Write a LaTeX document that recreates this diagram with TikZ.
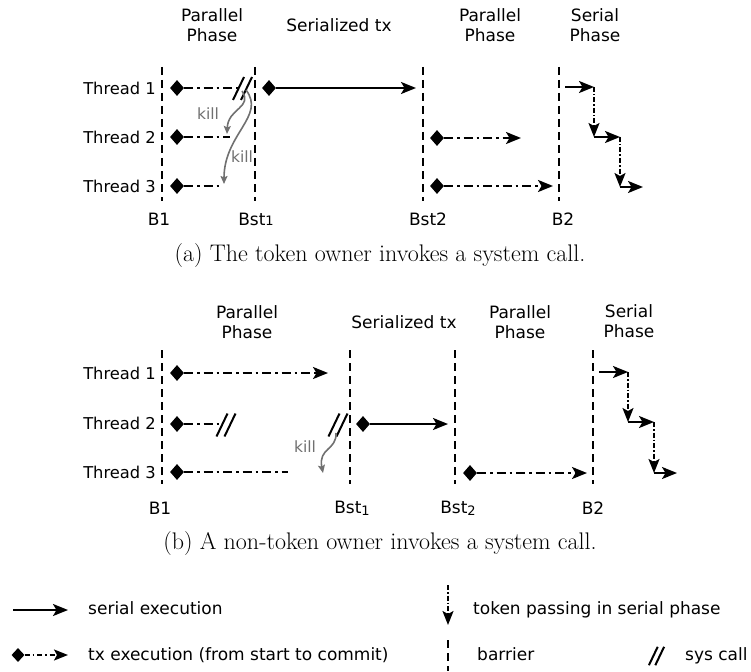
\documentclass[tikz,border=0pt]{standalone}
\usepackage{fontspec}
\newfontfamily\dv{DejaVu Sans}
\usetikzlibrary{arrows.meta,shapes.geometric}
\definecolor{killgray}{RGB}{112,112,112}
\begin{document}
\begin{tikzpicture}[x=1pt,y=-1pt,
  lbl/.style={font=\dv\fontsize{17}{20}\selectfont, inner sep=0pt},
  phase/.style={lbl, align=center},
  thr/.style={font=\dv\fontsize{16.3}{19}\selectfont, anchor=east, inner sep=0pt},
  leg/.style={font=\dv\fontsize{17}{20}\selectfont, anchor=base west, inner sep=0pt},
  barrierline/.style={line width=2pt, dash pattern=on 8pt off 5pt},
  dmd/.style={diamond, fill=black, inner sep=0pt, minimum width=14pt, minimum height=16pt},
  arrtip/.style={-{Stealth[length=15pt,width=12pt,inset=3.5pt]}},
  tx/.style={line width=2pt, dash pattern=on 9pt off 4pt on 2.5pt off 4pt},
  txa/.style={tx, arrtip},
  ser/.style={line width=2pt, arrtip},
  tok/.style={line width=1.6pt, dash pattern=on 5pt off 2pt on 1.5pt off 2pt,
              -{Stealth[length=14pt,width=11pt,inset=3pt]}},
  killarr/.style={draw=killgray, line width=1.6pt, -{Stealth[length=8pt,width=7pt,inset=1.5pt]}},
  killlbl/.style={font=\dv\fontsize{15.5}{18}\selectfont, text=killgray, inner sep=0pt},
  captxt/.style={font=\fontsize{24}{28}\selectfont, anchor=base, inner sep=0pt},
  syscall/.pic={\draw[line width=2pt] (-9.5,11.5) -- (1.5,-11.5) (-1.5,11.5) -- (9.5,-11.5);}
]
\useasboundingbox (0,0) rectangle (751,671);

% ================= (a) =================
\node[phase] (aph1) at (212,25) {Parallel\\Phase};
\node[lbl]   (aser) at (339,25) {Serialized tx};
\node[phase] (aph2) at (490,25) {Parallel\\Phase};
\node[phase] (aph3) at (595,25) {Serial\\Phase};

\foreach \n/\x in {aB1/162, aBst1/255, aBst2/423, aB2/559}{
  \coordinate (\n t) at (\x,67); \coordinate (\n b) at (\x,201);
  \draw[barrierline] (\n t) -- (\n b);
}
\node[lbl] (laB1) at (159,219) {B1};
\node[lbl] (laBst1) at (256,219) {Bst{\fontsize{13}{13}\selectfont 1}};
\node[lbl] (laBst2) at (428,219) {Bst2};
\node[lbl] (laB2) at (563,219) {B2};

\node[thr] (at1) at (156,88) {Thread 1};
\node[thr] (at2) at (156,137) {Thread 2};
\node[thr] (at3) at (156,186) {Thread 3};

% thread 1
\node[dmd] (a1s) at (177,88) {};
\coordinate (a1e) at (238,88);
\draw[tx] (a1s.east) -- (a1e);
\pic at (242.5,88.5) {syscall};
\node[dmd] (a1s2) at (269,88) {};
\coordinate (a1e2) at (416,88);
\draw[ser] (a1s2.east) -- (a1e2);
% thread 2
\node[dmd] (a2s) at (177,137) {};
\coordinate (a2e) at (230,137);
\draw[tx] (a2s.east) -- (a2e);
\node[dmd] (a2s2) at (437,138) {};
\coordinate (a2e2) at (521,138);
\draw[txa] (a2s2.east) -- (a2e2);
% thread 3
\node[dmd] (a3s) at (177,186) {};
\coordinate (a3e) at (223,186);
\draw[tx] (a3s.east) -- (a3e);
\node[dmd] (a3s2) at (437,186) {};
\coordinate (a3e2) at (553,186);
\draw[txa] (a3s2.east) -- (a3e2);

% kills
\coordinate (ak1s) at (242,91);
\coordinate (ak1e) at (227,134);
\draw[killarr] (ak1s) .. controls (253,108) and (228,108) .. (ak1e);
\coordinate (ak2s) at (246,90);
\coordinate (ak2e) at (224,184);
\draw[killarr] (ak2s) .. controls (266,116) and (224,134) .. (ak2e);
\node[killlbl] (akl1) at (208,114) {kill};
\node[killlbl] (akl2) at (242,157) {kill};

% serial phase staircase
\coordinate (as0) at (565,87);
\coordinate (as1) at (594,87);
\coordinate (as2) at (594,137);
\coordinate (as3) at (620,137);
\coordinate (as4) at (620,187);
\coordinate (as5) at (643,187);
\draw[ser] (as0) -- (as1);
\draw[tok] (as1) -- (as2);
\draw[ser] (as2) -- (as3);
\draw[tok] (as3) -- (as4);
\draw[ser] (as4) -- (as5);

\node[captxt] (capa) at (380,261) {(a) The token owner invokes a system call.};

% ================= (b) =================
\node[phase] (bph1) at (247,322) {Parallel\\Phase};
\node[lbl]   (bser) at (404,322) {Serialized tx};
\node[phase] (bph2) at (520,322) {Parallel\\Phase};
\node[phase] (bph3) at (629,321) {Serial\\Phase};

\foreach \n/\x in {bB1/162, bBst1/350, bBst2/455, bB2/593}{
  \coordinate (\n t) at (\x,350); \coordinate (\n b) at (\x,484);
  \draw[barrierline] (\n t) -- (\n b);
}
\node[lbl] (lbB1) at (160,508) {B1};
\node[lbl] (lbBst1) at (352,508) {Bst\raisebox{-2pt}{\fontsize{13}{13}\selectfont 1}};
\node[lbl] (lbBst2) at (458,508) {Bst\raisebox{-2pt}{\fontsize{13}{13}\selectfont 2}};
\node[lbl] (lbB2) at (593,508) {B2};

\node[thr] (bt1) at (156,373) {Thread 1};
\node[thr] (bt2) at (156,423) {Thread 2};
\node[thr] (bt3) at (156,472) {Thread 3};

% thread 1
\node[dmd] (b1s) at (177,373) {};
\coordinate (b1e) at (328,373);
\draw[txa] (b1s.east) -- (b1e);
% thread 2
\node[dmd] (b2s) at (177,424) {};
\coordinate (b2e) at (221,424);
\draw[tx] (b2s.east) -- (b2e);
\pic at (226,425) {syscall};
\pic at (338,425) {syscall};
\node[dmd] (b2s2) at (363,424) {};
\coordinate (b2e2) at (448,424);
\draw[ser] (b2s2.east) -- (b2e2);
% thread 3
\node[dmd] (b3s) at (177,472) {};
\coordinate (b3e) at (288,472);
\draw[tx] (b3s.east) -- (b3e);
\node[dmd] (b3s2) at (470,473) {};
\coordinate (b3e2) at (587,473);
\draw[txa] (b3s2.east) -- (b3e2);

% kill
\coordinate (bks) at (336,433);
\coordinate (bke) at (323,473);
\draw[killarr] (bks) .. controls (337,450) and (318,448) .. (bke);
\node[killlbl] (bkl) at (305,447) {kill};

% serial phase staircase
\coordinate (bs0) at (599,372);
\coordinate (bs1) at (628,372);
\coordinate (bs2) at (628,422);
\coordinate (bs3) at (654,422);
\coordinate (bs4) at (654,473);
\coordinate (bs5) at (677,473);
\draw[ser] (bs0) -- (bs1);
\draw[tok] (bs1) -- (bs2);
\draw[ser] (bs2) -- (bs3);
\draw[tok] (bs3) -- (bs4);
\draw[ser] (bs4) -- (bs5);

\node[captxt] (capb) at (380,549) {(b) A non-token owner invokes a system call.};

% ================= legend =================
\coordinate (l1s) at (13,610);
\coordinate (l1e) at (68,610);
\draw[ser] (l1s) -- (l1e);
\node[leg] (l1t) at (88,614) {serial execution};

\node[dmd, minimum width=13pt, minimum height=14pt] (l2s) at (18,655) {};
\coordinate (l2e) at (68,655);
\draw[line width=1.6pt, dash pattern=on 5pt off 3pt on 1.5pt off 3pt,
      -{Stealth[length=14pt,width=11pt,inset=3pt]}] (l2s.east) -- (l2e);
\node[leg] (l2t) at (88,660) {tx execution (from start to commit)};

\coordinate (l3s) at (448,585);
\coordinate (l3e) at (448,625);
\draw[tok] (l3s) -- (l3e);
\node[leg] (l3t) at (473,614) {token passing in serial phase};

\coordinate (l4s) at (448,640);
\coordinate (l4e) at (448,671);
\draw[barrierline] (l4s) -- (l4e);
\node[leg] (l4t) at (477,660) {barrier};

\pic[scale=0.8, line width=1.6pt] at (656.5,656) {syscall};
\node[leg] (l5t) at (685,660) {sys call};
\end{tikzpicture}
\end{document}
